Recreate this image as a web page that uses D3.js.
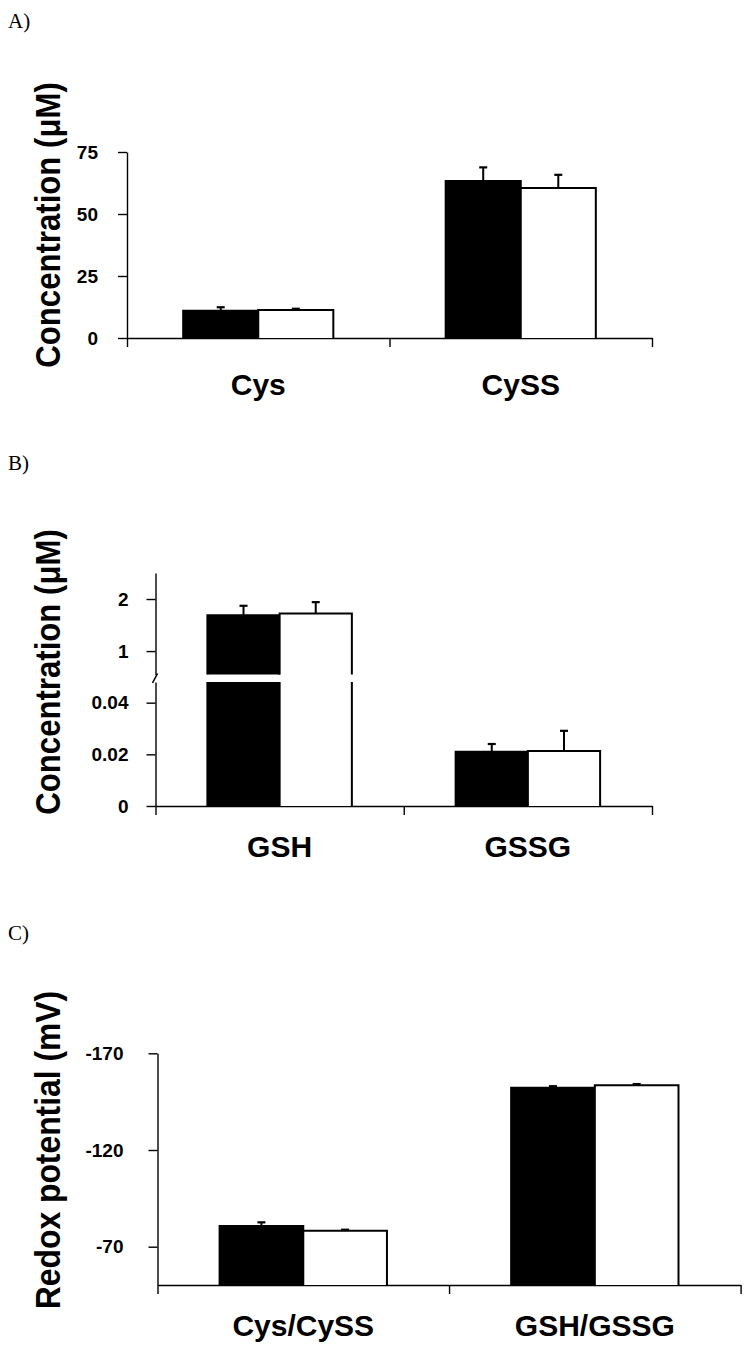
<!DOCTYPE html>
<html>
<head>
<meta charset="utf-8">
<script src="https://cdn.jsdelivr.net/npm/d3@7"></script>
<style>
  body { margin: 0; background: #fff; }
  .tick text { font-family: "Liberation Sans", Arial, sans-serif; font-weight: bold; font-size: 19px; fill: #000; }
  .cat { font-family: "Liberation Sans", Arial, sans-serif; font-weight: bold; font-size: 30px; }
  .ytitle { font-family: "Liberation Sans", Arial, sans-serif; font-weight: bold; font-size: 35px; }
  .plabel { font-family: "Liberation Serif", "Times New Roman", serif; font-size: 21px; }
</style>
</head>
<body>
<div id="chart"></div>
<script>
// panel A - concentrations of Cys / CySS
var catsA = ["Cys", "CySS"];
var blackA = [11.0, 63.3];
var blackErrA = [1.4, 5.5];
var whiteA = [11.3, 60.5];
var whiteErrA = [0.5, 5.3];
var ticksA = [0, 25, 50, 75];

// panel B - GSH / GSSG (broken axis)
var catsB = ["GSH", "GSSG"];
var blackB = [1.69, 0.021];
var blackErrB = [0.18, 0.003];
var whiteB = [1.72, 0.0213];
var whiteErrB = [0.22, 0.0078];
var ticksBLow = [0, 0.02, 0.04];
var ticksBHigh = [1, 2];

// panel C - redox potential
var catsC = ["Cys/CySS", "GSH/GSSG"];
var blackC = [-80.7, -152.2];
var blackErrC = [-1.9, -0.8];
var whiteC = [-78.3, -153.5];
var whiteErrC = [-0.5, -0.6];
var ticksC = [-170, -120, -70];

var W = 750, H = 1364;
var svg = d3.select("#chart").append("svg")
    .attr("width", W)
    .attr("height", H);

var fmt = d => String(d);

function panelLabel(txt, y) {
    svg.append("text").attr("class", "plabel")
        .attr("x", 8).attr("y", y).text(txt);
}

function yTitle(txt, x, y, sx) {
    svg.append("text").attr("class", "ytitle")
        .attr("transform", "translate(" + x + "," + y + ") rotate(-90) scale(" + sx + ",1)")
        .attr("text-anchor", "middle")
        .text(txt);
}

// x axis with ticks at band edges + category labels
function xAxis(g, cats, x0, x1, y, labY) {
    var edge = d3.scaleLinear().domain([0, cats.length]).range([x0, x1]);
    g.append("g")
        .attr("transform", "translate(0," + y + ")")
        .call(d3.axisBottom(edge).tickValues(d3.range(cats.length + 1)).tickFormat("").tickSize(9).tickSizeOuter(0))
        .call(a => a.selectAll("line,path").attr("stroke", "#000").attr("stroke-width", 1.4));
    var band = d3.scaleBand().domain(cats).range([x0, x1]);
    g.selectAll("text.cat").data(cats).enter().append("text")
        .attr("class", "cat")
        .attr("x", d => band(d) + band.bandwidth() / 2)
        .attr("y", labY)
        .attr("text-anchor", "middle")
        .text(d => d);
    return band;
}

function barPath(x, w, yb, yt) {
    return "M" + x + "," + yb + "V" + yt + "H" + (x + w) + "V" + yb;
}

function errBar(g, cx, yTop, yErr) {
    g.append("line").attr("x1", cx).attr("x2", cx).attr("y1", yTop).attr("y2", yErr)
        .attr("stroke", "#000").attr("stroke-width", 2);
    g.append("line").attr("x1", cx - 4).attr("x2", cx + 4).attr("y1", yErr).attr("y2", yErr)
        .attr("stroke", "#000").attr("stroke-width", 2.2);
}

// simple grouped panel (A and C)
function simplePanel(cfg) {
    var g = svg.append("g");
    var y = d3.scaleLinear().domain(cfg.domain).range([cfg.y0, cfg.y1]);
    g.append("g")
        .attr("transform", "translate(" + cfg.x0 + ",0)")
        .call(d3.axisLeft(y).tickValues(cfg.ticks).tickFormat(fmt).tickSize(9).tickPadding(cfg.pad).tickSizeOuter(0))
        .call(a => a.selectAll("line,path").attr("stroke", "#000").attr("stroke-width", 1.4));
    var band = xAxis(g, cfg.cats, cfg.x0, cfg.x1, cfg.y0, cfg.labY);
    var bw = band.bandwidth() * cfg.frac / 2;
    var series = [
        { vals: cfg.black, errs: cfg.blackErr, fill: "#000", off: -bw },
        { vals: cfg.white, errs: cfg.whiteErr, fill: "#fff", off: 0 }
    ];
    series.forEach(s => {
        cfg.cats.forEach((c, i) => {
            var xl = band(c) + band.bandwidth() / 2 + s.off;
            var yt = y(s.vals[i]);
            errBar(g, xl + bw / 2, yt, y(s.vals[i] + s.errs[i]));
            g.append("rect").attr("x", xl).attr("y", yt).attr("width", bw).attr("height", cfg.y0 - yt)
                .attr("fill", s.fill);
            g.append("path").attr("d", barPath(xl, bw, cfg.y0, yt))
                .attr("fill", "none").attr("stroke", "#000").attr("stroke-width", 2);
        });
    });
}

// ---- A
panelLabel("A)", 28);
yTitle("Concentration (\u03bcM)", 60, 225, 0.89);
simplePanel({
    cats: catsA, black: blackA, blackErr: blackErrA, white: whiteA, whiteErr: whiteErrA,
    domain: [0, 75], ticks: ticksA, x0: 127, x1: 652, y0: 338, y1: 152, frac: 0.572, labY: 395, pad: 20
});

// ---- B (broken axis)
panelLabel("B)", 470);
yTitle("Concentration (\u03bcM)", 60, 672, 0.89);
(function () {
    var g = svg.append("g");
    var x0 = 155.5, x1 = 652, y0 = 806;
    var yLow = d3.scaleLinear().domain([0, 0.048]).range([y0, 682]);
    var yHigh = d3.scaleLinear().domain([0.55, 2.5]).range([674.5, 573]);
    var axStyle = a => a.selectAll("line,path").attr("stroke", "#000").attr("stroke-width", 1.4);
    g.append("g").attr("transform", "translate(" + x0 + ",0)")
        .call(d3.axisLeft(yLow).tickValues(ticksBLow).tickFormat(fmt).tickSize(9).tickPadding(18).tickSizeOuter(0))
        .call(axStyle);
    g.append("g").attr("transform", "translate(" + x0 + ",0)")
        .call(d3.axisLeft(yHigh).tickValues(ticksBHigh).tickFormat(fmt).tickSize(9).tickPadding(18).tickSizeOuter(0))
        .call(axStyle);
    // break mark
    g.append("path")
        .attr("d", "M" + (x0 - 3) + "," + (yLow.range()[1] + 1) + "L" + (x0 + 2) + "," + (yHigh.range()[0] - 1))
        .attr("stroke", "#000").attr("stroke-width", 1.6).attr("fill", "none");

    var band = xAxis(g, catsB, x0, x1, y0, 857);
    var bw = band.bandwidth() * 0.582 / 2;
    var yOf = v => v > 0.048 ? yHigh(v) : yLow(v);
    var series = [
        { vals: blackB, errs: blackErrB, fill: "#000", off: -bw },
        { vals: whiteB, errs: whiteErrB, fill: "#fff", off: 0 }
    ];
    series.forEach(s => {
        catsB.forEach((c, i) => {
            var xl = band(c) + band.bandwidth() / 2 + s.off;
            var v = s.vals[i];
            var yt = yOf(v);
            errBar(g, xl + bw / 2, yt, yOf(v + s.errs[i]));
            if (v > 0.048) {
                var lowTop = yLow.range()[1], highBot = yHigh.range()[0];
                g.append("rect").attr("x", xl).attr("y", lowTop).attr("width", bw).attr("height", y0 - lowTop).attr("fill", s.fill);
                g.append("rect").attr("x", xl).attr("y", yt).attr("width", bw).attr("height", highBot - yt).attr("fill", s.fill);
                g.append("path")
                    .attr("d", "M" + xl + "," + y0 + "V" + lowTop + "M" + (xl + bw) + "," + y0 + "V" + lowTop +
                        barPath(xl, bw, highBot, yt))
                    .attr("fill", "none").attr("stroke", "#000").attr("stroke-width", 2);
            } else {
                g.append("rect").attr("x", xl).attr("y", yt).attr("width", bw).attr("height", y0 - yt).attr("fill", s.fill);
                g.append("path").attr("d", barPath(xl, bw, y0, yt))
                    .attr("fill", "none").attr("stroke", "#000").attr("stroke-width", 2);
            }
        });
    });
})();

// ---- C
panelLabel("C)", 940);
yTitle("Redox potential (mV)", 60, 1150, 0.91);
simplePanel({
    cats: catsC, black: blackC, blackErr: blackErrC, white: whiteC, whiteErr: whiteErrC,
    domain: [-50.2, -170], ticks: ticksC, x0: 157.5, x1: 740.6, y0: 1285, y1: 1053.3, frac: 0.574, labY: 1336, pad: 25
});
</script>
</body>
</html>
